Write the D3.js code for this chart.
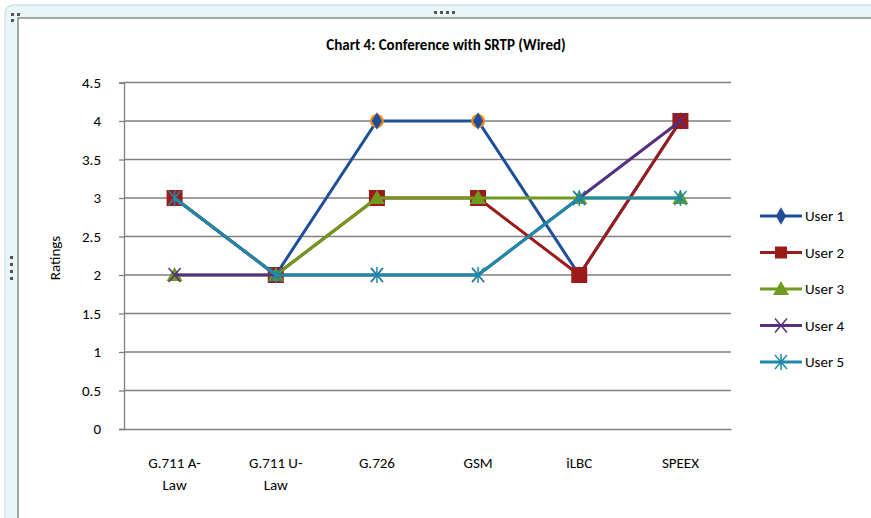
<!DOCTYPE html>
<html>
<head>
<meta charset="utf-8">
<script src="https://cdn.jsdelivr.net/npm/d3@7"></script>
<style>
  body { margin: 0; background: #fff; }
  svg text { font-family: Calibri, Carlito, "Open Sans", "Liberation Sans", sans-serif; }
</style>
</head>
<body>
<div id="chart"></div>
<script>
var categories = ["G.711 A-Law", "G.711 U-Law", "G.726", "GSM", "iLBC", "SPEEX"];
var seriesNames = ["User 1", "User 2", "User 3", "User 4", "User 5"];
var user1 = [3, 2, 4, 4, 2, 4];
var user2 = [3, 2, 3, 3, 2, 4];
var user3 = [2, 2, 3, 3, 3, 3];
var user4 = [2, 2, 2, 2, 3, 4];
var user5 = [3, 2, 2, 2, 3, 3];
var yTicks = [0, 0.5, 1, 1.5, 2, 2.5, 3, 3.5, 4, 4.5];

var colors = ["#1f4e99", "#9b1b1b", "#6f9a1f", "#55307f", "#1d8aa8"];
var shapes = ["diamond", "square", "triangle", "cross", "star"];
var allSeries = [user1, user2, user3, user4, user5];

var W = 871, H = 518;
var svg = d3.select("#chart").append("svg")
  .attr("width", W).attr("height", H);

// frame like the office chart window
svg.append("rect").attr("x", 5).attr("y", 5).attr("width", W + 20).attr("height", H + 20)
  .attr("rx", 8).attr("fill", "#e9f6f8").attr("stroke", "#c5d6da");
svg.append("rect").attr("x", 18).attr("y", 18).attr("width", W).attr("height", H)
  .attr("fill", "#fff").attr("stroke", "#8a8a8a").attr("stroke-width", 1.5);
// grab handles
[[11, 13], [17, 13], [11, 19]].forEach(function(p) {
  svg.append("rect").attr("x", p[0]).attr("y", p[1]).attr("width", 3).attr("height", 3).attr("fill", "#555");
});
d3.range(4).forEach(function(i) {
  svg.append("rect").attr("x", 434 + i * 6).attr("y", 11).attr("width", 3).attr("height", 3).attr("fill", "#555");
  svg.append("rect").attr("x", 10).attr("y", 256 + i * 7).attr("width", 3).attr("height", 3).attr("fill", "#555");
});

var margin = { left: 124, top: 82.5, right: 871 - 731, bottom: 518 - 429 };
var width = 731 - margin.left, height = 429 - margin.top;
var g = svg.append("g").attr("transform", "translate(" + margin.left + "," + margin.top + ")");

var x = d3.scaleBand().domain(categories).range([0, width]);
var y = d3.scaleLinear().domain([0, 4.5]).range([height, 0]);

// gridlines
g.selectAll(".grid").data(yTicks.slice(1)).enter().append("line")
  .attr("x1", 0).attr("x2", width)
  .attr("y1", function(d) { return y(d); }).attr("y2", function(d) { return y(d); })
  .attr("stroke", "#808080").attr("stroke-width", 1.3);

// y axis
var yAxis = d3.axisLeft(y).tickValues(yTicks).tickSize(5).tickPadding(18)
  .tickFormat(function(d) { return d; });
var ya = g.append("g").call(yAxis);
ya.select(".domain").attr("stroke", "#808080").attr("stroke-width", 1.3);
ya.selectAll(".tick line").attr("stroke", "#808080").attr("stroke-width", 1.3);
ya.selectAll("text").attr("font-size", 15).attr("fill", "#000");

// x axis
var xAxis = d3.axisBottom(x).tickSize(0).tickPadding(28);
var xa = g.append("g").attr("transform", "translate(0," + height + ")").call(xAxis);
xa.select(".domain").attr("stroke", "#808080").attr("stroke-width", 1.3);
xa.selectAll("text").attr("font-size", 15).attr("fill", "#000")
  .each(function(d) {
    var t = d3.select(this);
    var m = d.match(/^(G\.711 [AU]-)(Law)$/);
    if (m) {
      t.text(null);
      t.append("tspan").attr("x", 0).text(m[1]);
      t.append("tspan").attr("x", 0).attr("dy", "1.5em").text(m[2]);
    }
  });

// axis title
svg.append("text")
  .attr("transform", "translate(60,258) rotate(-90)")
  .attr("text-anchor", "middle").attr("font-size", 15).text("Ratings");

// chart title
svg.append("text").attr("x", 446).attr("y", 50).attr("text-anchor", "middle")
  .attr("font-size", 15).attr("font-weight", "bold").text("Chart 4: Conference with SRTP (Wired)");

function cx(i) { return x(categories[i]) + x.bandwidth() / 2; }

function drawMarker(sel, shape, color) {
  if (shape === "diamond") {
    sel.append("path").attr("d", d3.symbol(d3.symbolDiamond, 90)).attr("fill", color);
  } else if (shape === "square") {
    sel.append("rect").attr("x", -8).attr("y", -8).attr("width", 16).attr("height", 16).attr("fill", color);
  } else if (shape === "triangle") {
    sel.append("path").attr("d", "M0,-8L8,6L-8,6Z").attr("fill", color);
  } else if (shape === "cross") {
    sel.append("path").attr("d", "M-6,-7L6,7M-6,7L6,-7").attr("stroke", color).attr("stroke-width", 1.5);
  } else {
    sel.append("path").attr("d", "M-6,-7L6,7M-6,7L6,-7M0,-8L0,8").attr("stroke", color).attr("stroke-width", 1.5);
  }
}

var line = d3.line().x(function(d, i) { return cx(i); }).y(function(d) { return y(d); });

allSeries.forEach(function(vals, s) {
  g.append("path").datum(vals).attr("d", line)
    .attr("fill", "none").attr("stroke", colors[s]).attr("stroke-width", 3);
  vals.forEach(function(v, i) {
    var m = g.append("g").attr("transform", "translate(" + cx(i) + "," + y(v) + ")");
    if (s === 0) m.append("circle").attr("r", 7).attr("fill", "#f08a24");
    drawMarker(m, shapes[s], colors[s]);
  });
});

// legend
var lg = svg.append("g").attr("transform", "translate(760,216)");
seriesNames.forEach(function(name, s) {
  var row = lg.append("g").attr("transform", "translate(0," + s * 36.5 + ")");
  row.append("line").attr("x1", 0).attr("x2", 42).attr("stroke", colors[s]).attr("stroke-width", 3);
  var m = row.append("g").attr("transform", "translate(21,0)");
  if (shapes[s] === "square") {
    m.append("rect").attr("x", -6).attr("y", -6).attr("width", 12).attr("height", 12).attr("fill", colors[s]);
  } else {
    drawMarker(m, shapes[s], colors[s]);
  }
  row.append("text").attr("x", 45).attr("y", 5).attr("font-size", 15).text(name);
});
</script>
</body>
</html>
